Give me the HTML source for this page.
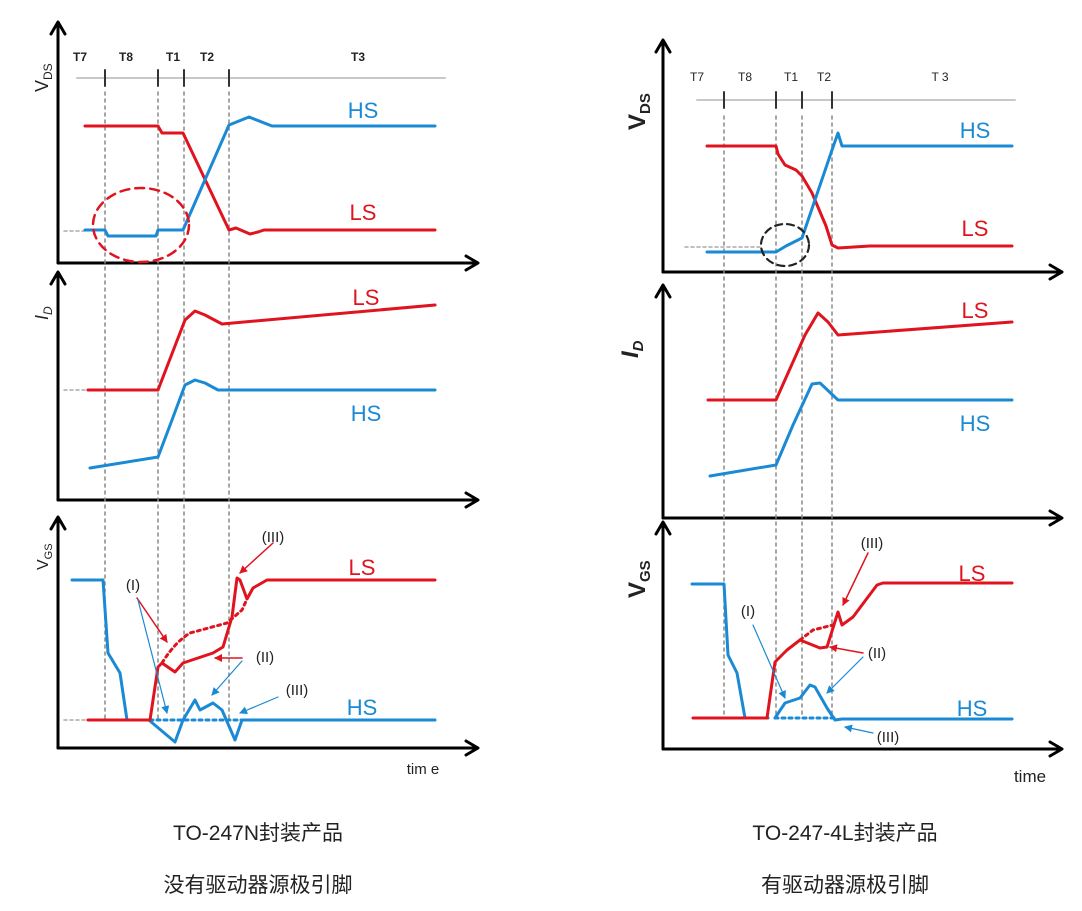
<!DOCTYPE html>
<html><head><meta charset="utf-8"><style>
html,body{margin:0;padding:0;background:#fff;}
svg{display:block;}
</style></head><body>
<svg width="1082" height="911" viewBox="0 0 1082 911" xmlns="http://www.w3.org/2000/svg" font-family="Liberation Sans, sans-serif">
<defs>
<marker id="ar" markerWidth="8" markerHeight="8" refX="7" refY="4" orient="auto" markerUnits="userSpaceOnUse"><path d="M0,0 L8,4 L0,8 z" fill="#e0141e"/></marker>
<marker id="ab" markerWidth="8" markerHeight="8" refX="7" refY="4" orient="auto" markerUnits="userSpaceOnUse"><path d="M0,0 L8,4 L0,8 z" fill="#1a8ad4"/></marker>
</defs>
<g fill="none" stroke-linejoin="round" stroke-linecap="round">
<!-- LEFT axes -->
<g stroke="#000" stroke-width="3">
<path d="M58,263 V26 M51,34 L58,22 L65,34"/>
<path d="M58,263 H476 M466,256 L478,263 L466,270"/>
<path d="M58,500 V276 M51,284 L58,272 L65,284"/>
<path d="M58,500 H476 M466,493 L478,500 L466,507"/>
<path d="M58,748 V521 M51,529 L58,517 L65,529"/>
<path d="M58,748 H476 M466,741 L478,748 L466,755"/>
</g>
<path d="M77,78 H445" stroke="#c8c8c8" stroke-width="2"/>
<path d="M105,70V86 M158,70V86 M184,70V86 M229,70V86" stroke="#333" stroke-width="2"/>
<path d="M105,92V720 M158,92V720 M184,92V720 M229,92V720" stroke="#888" stroke-width="1.5" stroke-dasharray="3,4"/>
<path d="M64,231H85 M64,390H88 M64,720H88" stroke="#aaa" stroke-width="1.5" stroke-dasharray="3,3"/>
<!-- top left -->
<path d="M85,126 H158 L162,133 H183 L229,230 L236,228 L250,234 L258,232 L264,230 H435" stroke="#e0141e" stroke-width="3"/>
<path d="M85,230 H105 L108,236 H156 L158,230 H183 L229,125 L249,117 L272,126 H435" stroke="#1a8ad4" stroke-width="3"/>
<ellipse cx="141" cy="225" rx="48" ry="37" stroke="#e0141e" stroke-width="2.5" stroke-dasharray="9,6"/>
<!-- middle left -->
<path d="M88,390 H158 L185,320 L195,311 L205,315 L222,324 L435,305" stroke="#e0141e" stroke-width="3"/>
<path d="M90,468 L158,457 L172,420 L185,385 L195,380 L205,383 L218,390 H435" stroke="#1a8ad4" stroke-width="3"/>
<!-- bottom left -->
<path d="M150,720 H242" stroke="#1a8ad4" stroke-width="3" stroke-dasharray="3,4"/>
<path d="M72,580 H103 L108,653 L120,673 L127,720 H148 M150,721 L175,742 L183,720 L195,700 L200,710 L213,703 L222,710 L235,740 L242,720 H435" stroke="#1a8ad4" stroke-width="3"/>
<path d="M162,663 Q175,642 190,633 L227,623 L242,610 L247,599" stroke="#e0141e" stroke-width="3" stroke-dasharray="3,4"/>
<path d="M88,720 H150 L158,667 L162,663 L175,672 L183,663 L213,653 L223,647 L232,617 L237,578 L240,580 L247,599 L253,588 L267,580 H435" stroke="#e0141e" stroke-width="3"/>
<path d="M137,598 L167,642" stroke="#e0141e" stroke-width="1.5" marker-end="url(#ar)"/>
<path d="M138,600 L167,713" stroke="#1a8ad4" stroke-width="1.2" marker-end="url(#ab)"/>
<path d="M242,658 L215,658" stroke="#e0141e" stroke-width="1.5" marker-end="url(#ar)"/>
<path d="M242,661 L212,695" stroke="#1a8ad4" stroke-width="1.2" marker-end="url(#ab)"/>
<path d="M273,543 L240,573" stroke="#e0141e" stroke-width="1.5" marker-end="url(#ar)"/>
<path d="M278,697 L240,713" stroke="#1a8ad4" stroke-width="1.2" marker-end="url(#ab)"/>

<!-- RIGHT axes -->
<g stroke="#000" stroke-width="3">
<path d="M663,272 V44 M656,52 L663,40 L670,52"/>
<path d="M663,272 H1060 M1050,265 L1062,272 L1050,279"/>
<path d="M663,518 V289 M656,297 L663,285 L670,297"/>
<path d="M663,518 H1060 M1050,511 L1062,518 L1050,525"/>
<path d="M663,749 V526 M656,534 L663,522 L670,534"/>
<path d="M663,749 H1060 M1050,742 L1062,749 L1050,756"/>
</g>
<path d="M697,100 H1015" stroke="#c8c8c8" stroke-width="2"/>
<path d="M724,92V108 M776,92V108 M802,92V108 M832,92V108" stroke="#333" stroke-width="2"/>
<path d="M724,116V718 M776,116V718 M802,116V718 M832,116V718" stroke="#888" stroke-width="1.5" stroke-dasharray="3,4"/>
<path d="M685,247H760" stroke="#aaa" stroke-width="1.5" stroke-dasharray="3,3"/>
<path d="M707,146 H776 L778,154 L785,165 L796,170 L802,176 L812,193 L826,226 L832,245 L838,248 L870,246 H1012" stroke="#e0141e" stroke-width="3"/>
<path d="M707,252 H776 L786,246 L796,241 L802,238 L832,150 L838,133 L842,146 H1012" stroke="#1a8ad4" stroke-width="3"/>
<ellipse cx="785" cy="245" rx="24" ry="21" stroke="#222" stroke-width="2.2" stroke-dasharray="7,5"/>
<path d="M708,400 H776 L805,335 L818,313 L828,322 L838,335 L1012,322" stroke="#e0141e" stroke-width="3"/>
<path d="M710,476 L776,465 L793,425 L812,384 L820,383 L838,400 H1012" stroke="#1a8ad4" stroke-width="3"/>
<path d="M775,718 H835" stroke="#1a8ad4" stroke-width="3" stroke-dasharray="3,4"/>
<path d="M692,584 H724 L728,655 L737,673 L745,718 H768 M775,718 L785,703 L800,698 L810,685 L815,687 L827,708 L835,720 L842,719 H1012" stroke="#1a8ad4" stroke-width="3"/>
<path d="M800,640 L813,630 L833,625" stroke="#e0141e" stroke-width="3" stroke-dasharray="3,4"/>
<path d="M693,718 H767 L775,662 L787,650 L800,640 L820,648 L827,647 L838,612 L842,625 L853,617 L877,585 L883,583 H1012" stroke="#e0141e" stroke-width="3"/>
<path d="M868,553 L843,605" stroke="#e0141e" stroke-width="1.5" marker-end="url(#ar)"/>
<path d="M753,625 L785,698" stroke="#1a8ad4" stroke-width="1.2" marker-end="url(#ab)"/>
<path d="M863,653 L830,647" stroke="#e0141e" stroke-width="1.5" marker-end="url(#ar)"/>
<path d="M863,657 L827,693" stroke="#1a8ad4" stroke-width="1.2" marker-end="url(#ab)"/>
<path d="M873,733 L845,727" stroke="#1a8ad4" stroke-width="1.2" marker-end="url(#ab)"/>
</g>

<!-- LEFT text -->
<g font-size="12" font-weight="bold" fill="#222" text-anchor="middle">
<text x="80" y="61">T7</text><text x="126" y="61">T8</text><text x="173" y="61">T1</text><text x="207" y="61">T2</text><text x="358" y="61">T3</text>
</g>
<g font-size="22" text-anchor="middle">
<text x="363" y="118" fill="#1a8ad4">HS</text><text x="363" y="220" fill="#e0141e">LS</text>
<text x="366" y="305" fill="#e0141e">LS</text><text x="366" y="421" fill="#1a8ad4">HS</text>
<text x="362" y="575" fill="#e0141e">LS</text><text x="362" y="715" fill="#1a8ad4">HS</text>
</g>
<text transform="translate(48,92) rotate(-90)" font-size="18" fill="#222">V<tspan font-size="12" dy="4">DS</tspan></text>
<text transform="translate(48,320) rotate(-90)" font-size="18" fill="#222" font-style="italic">I<tspan font-size="12" dy="4">D</tspan></text>
<text transform="translate(48,570) rotate(-90)" font-size="16" fill="#222">V<tspan font-size="11" dy="4">GS</tspan></text>
<g font-size="15" fill="#222" text-anchor="middle">
<text x="133" y="590">(I)</text><text x="265" y="662">(II)</text><text x="273" y="542">(III)</text><text x="297" y="695">(III)</text>
<text x="423" y="774">tim e</text>
</g>
<!-- RIGHT text -->
<g font-size="12" fill="#222" text-anchor="middle">
<text x="697" y="81">T7</text><text x="745" y="81">T8</text><text x="791" y="81">T1</text><text x="824" y="81">T2</text><text x="940" y="81">T 3</text>
</g>
<g font-size="22" text-anchor="middle">
<text x="975" y="138" fill="#1a8ad4">HS</text><text x="975" y="236" fill="#e0141e">LS</text>
<text x="975" y="318" fill="#e0141e">LS</text><text x="975" y="431" fill="#1a8ad4">HS</text>
<text x="972" y="581" fill="#e0141e">LS</text><text x="972" y="716" fill="#1a8ad4">HS</text>
</g>
<text transform="translate(645,130) rotate(-90)" font-size="24" font-weight="bold" fill="#222">V<tspan font-size="15" dy="5">DS</tspan></text>
<text transform="translate(638,358) rotate(-90)" font-size="24" font-weight="bold" font-style="italic" fill="#222">I<tspan font-size="15" dy="5">D</tspan></text>
<text transform="translate(645,598) rotate(-90)" font-size="24" font-weight="bold" fill="#222">V<tspan font-size="15" dy="5">GS</tspan></text>
<g font-size="15" fill="#222" text-anchor="middle">
<text x="872" y="548">(III)</text><text x="748" y="616">(I)</text><text x="877" y="658">(II)</text><text x="888" y="742">(III)</text>
<text x="1030" y="782" font-size="17">time</text>
</g>
<!-- captions -->
<g font-family="Liberation Sans, Noto Sans CJK SC, sans-serif" font-size="21" fill="#222" text-anchor="middle">
<text x="258" y="840">TO-247N封装产品</text>
<text x="258" y="892">没有驱动器源极引脚</text>
<text x="845" y="840">TO-247-4L封装产品</text>
<text x="845" y="892">有驱动器源极引脚</text>
</g>
</svg>
</body></html>
